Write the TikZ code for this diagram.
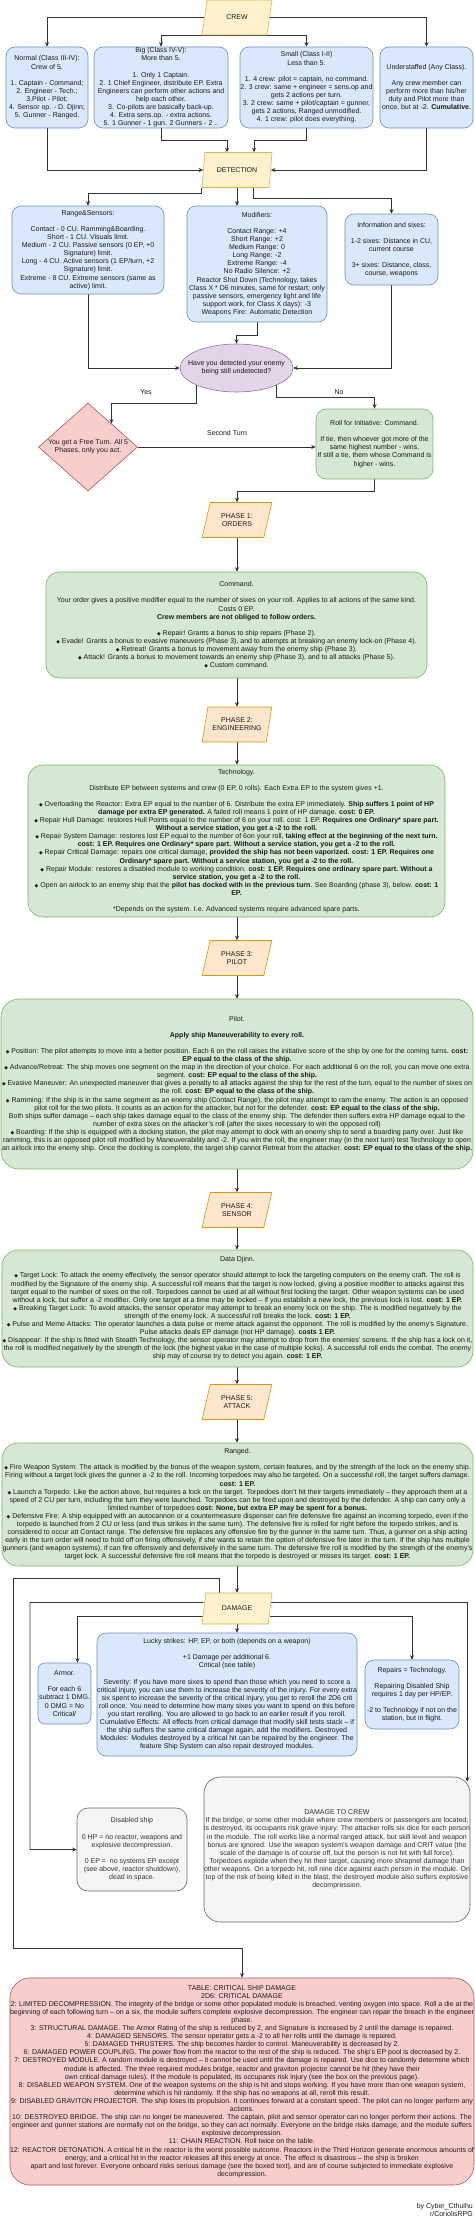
\documentclass[tikz,border=0pt]{standalone}
\usepackage{fontspec}
\setmainfont{Liberation Sans}
\newfontfamily\dejavu{DejaVu Sans}
\usetikzlibrary{shapes.geometric,arrows.meta}
\definecolor{blueF}{HTML}{DAE8FC}\definecolor{blueD}{HTML}{6C8EBF}
\definecolor{greenF}{HTML}{D5E8D4}\definecolor{greenD}{HTML}{82B366}
\definecolor{redF}{HTML}{F8CECC}\definecolor{redD}{HTML}{B85450}
\definecolor{purF}{HTML}{E1D5E7}\definecolor{purD}{HTML}{9673A6}
\definecolor{yelF}{HTML}{FFF2CC}\definecolor{yelD}{HTML}{D6B656}
\definecolor{orF}{HTML}{FFE6CC}\definecolor{orD}{HTML}{D79B00}
\definecolor{greyF}{HTML}{F5F5F5}\definecolor{greyD}{HTML}{666666}
\definecolor{edgeC}{HTML}{333333}
\definecolor{txt}{HTML}{1A1A1A}
\newcommand\fs{\fontsize{7}{8.1}\selectfont\hyphenpenalty=10000\exhyphenpenalty=10000}
\newcommand\dmd{{\dejavu\fontsize{4.8}{4}\selectfont ◆}}
\pgfdeclarelayer{bg}\pgfdeclarelayer{edges}\pgfsetlayers{bg,edges,main}
\begin{document}
\begin{tikzpicture}[x=1pt,y=-1pt,
  base/.style={font=\fs, text=txt, align=flush center, inner sep=0pt},
  box/.style={base, rectangle, rounded corners=#1, line width=0.6pt},
  bluebox/.style={box=9pt, draw=blueD, fill=blueF},
  greenbox/.style={box=#1, draw=greenD, fill=greenF},
  redbox/.style={box=20pt, draw=redD, fill=redF},
  greybox/.style={box=#1, draw=greyD, fill=greyF, text=black!80},
  para/.style={base, trapezium, trapezium left angle=70, trapezium right angle=110,
     trapezium stretches=true, minimum width=70, minimum height=35, line width=0.6pt},
  yelpara/.style={para, draw=yelD, fill=yelF},
  orpara/.style={para, draw=orD, fill=orF},
  arr/.style={draw=edgeC, line width=0.7pt, -{Stealth[length=4.5pt,width=4pt]}}
]
\begin{pgfonlayer}{bg}
\fill[white] (0,0) rectangle (474,2229);
\end{pgfonlayer}
\useasboundingbox (0,0) rectangle (474,2229);

% ---------- crew ----------
\node[yelpara] (crew) at (237,17.5) {CREW};
\node[bluebox, minimum width=82, minimum height=81, text width=80] (normal) at (47,87.5)
 {Normal (Class III-IV):\\Crew of 5.\\[8.1pt]1. Captain - Command;\\2. Engineer - Tech.;\\3.Pilot - Pilot;\\4. Sensor op. - D. Djinn;\\5. Gunner - Ranged.};
\node[bluebox, minimum width=134, minimum height=81, text width=127] (big) at (161,87.5)
 {Big (Class IV-V):\\More than 5.\\[8.1pt]1. Only 1 Captain.\\2. 1 Chief Engineer, distribute EP. Extra Engineers can perform other actions and help each other.\\3. Co-pilots are basically back-up.\\4. Extra sens.op. - extra actions.\\5. 1 Gunner - 1 gun. 2 Gunners - 2 ..};
\node[bluebox, minimum width=133, minimum height=81, text width=133] (small) at (306.5,87.5)
 {Small (Class I-II)\\Less than 5.\\[8.1pt]1. 4 crew: pilot = captain, no command.\\2. 3 crew: same + engineer = sens.op and gets 2 actions per turn.\\3. 2 crew: same + pilot/captain = gunner, gets 2 actions, Ranged unmodified.\\4. 1 crew: pilot does everything.};
\node[bluebox, minimum width=93, minimum height=81, text width=92] (under) at (426.5,87.5)
 {Understaffed (Any Class).\\[8.1pt]Any crew member can perform more than his/her duty and Pilot more than once, but at -2. \textbf{Cumulative}.};

% ---------- detection ----------
\node[yelpara] (det) at (237,170) {DETECTION};
\node[bluebox, minimum width=152, minimum height=88, text width=142] (rs) at (88,250)
 {Range\&Sensors:\\[8.1pt]Contact - 0 CU. Ramming\&Boarding.\\Short - 1 CU. Visuals limit.\\Medium - 2 CU. Passive sensors (0 EP, +0 Signature) limit.\\Long - 4 CU. Active sensors (1 EP/turn, +2 Signature) limit.\\Extreme - 8 CU. Extreme sensors (same as active) limit.};
\node[bluebox, minimum width=140, minimum height=116, text width=138] (mods) at (257,264)
 {Modifiers:\\[8.1pt]Contact Range: +4\\Short Range: +2\\Medium Range: 0\\Long Range: -2\\Extreme Range: -4\\No Radio Silence: +2\\Reactor Shut Down (Technology, takes Class X * D6 minutes, same for restart; only passive sensors, emergency light and life support work, for Class X days): -3\\Weapons Fire: Automatic Detection};
\node[bluebox, minimum width=93, minimum height=71, text width=85] (info) at (391.5,249.5)
 {Information and sixes:\\[8.1pt]1-2 sixes: Distance in CU, current course\\[8.1pt]3+ sixes: Distance, class, course, weapons};

\node[ellipse, draw=purD, fill=purF, line width=0.6pt, minimum width=113, minimum height=48, inner sep=0pt] (ell) at (236.5,368) {};
\node[base, text width=102] (ellt) at (ell.center) {Have you detected your enemy being still undetected?};

\node[diamond, draw=redD, fill=redF, line width=0.6pt, minimum width=99, minimum height=88, inner sep=0pt] (dia) at (88,447) {};
\node[base, text width=84] (diat) at (dia.center) {You get a Free Turn. All 5 Phases, only you act.};

\node[greenbox=10pt, minimum width=117, minimum height=70, text width=117] (roll) at (374.5,444)
 {Roll for Initiative: Command.\\[8.1pt]If tie, then whoever got more of the same highest number - wins.\\If still a tie, them whose Command is higher - wins.};

\node[base] (yes) at (146,392) {Yes};
\node[base] (no) at (339,392) {No};
\node[base] (sec) at (227,433) {Second Turn};

% ---------- phases ----------
\node[orpara] (p1) at (237,520) {PHASE 1:\\ORDERS};
\node[greenbox=13pt, minimum width=381, minimum height=106, text width=370] (cmd) at (236.5,625)
 {Command.\\[8.1pt]Your order gives a positive modifier equal to the number of sixes on your roll. Applies to all actions of the same kind. Costs 0 EP.\\\textbf{Crew members are not obliged to follow orders.}\\[8.1pt]
 \dmd{} Repair! Grants a bonus to ship repairs (Phase 2).\\
 \dmd{} Evade! Grants a bonus to evasive maneuvers (Phase 3), and to attempts at breaking an enemy lock-on (Phase 4).\\
 \dmd{} Retreat! Grants a bonus to movement away from the enemy ship (Phase 3).\\
 \dmd{} Attack! Grants a bonus to movement towards an enemy ship (Phase 3), and to all attacks (Phase 5).\\
 \dmd{} Custom command.};

\node[orpara] (p2) at (237,724.5) {PHASE 2:\\ENGINEERING};
\node[greenbox=15pt, minimum width=417, minimum height=152, text width=408] (tech) at (236.5,841)
 {Technology.\\[8pt]Distribute EP between systems and crew (0 EP, 0 rolls). Each Extra EP to the system gives +1.\\[8pt]
 \dmd{} Overloading the Reactor: Extra EP equal to the number of 6. Distribute the extra EP immediately. \textbf{Ship suffers 1 point of HP damage per extra EP generated.} A failed roll means 1 point of HP damage. \textbf{cost: 0 EP.}\\
 \dmd{} Repair Hull Damage: restores Hull Points equal to the number of 6 on your roll. cost: 1 EP. \textbf{Requires one Ordinary* spare part. Without a service station, you get a -2 to the roll.}\\
 \dmd{} Repair System Damage: restores lost EP equal to the number of 6on your roll, \textbf{taking effect at the beginning of the next turn. cost: 1 EP. Requires one Ordinary* spare part. Without a service station, you get a -2 to the roll.}\\
 \dmd{} Repair Critical Damage: repairs one critical damage, \textbf{provided the ship has not been vaporized. cost: 1 EP. Requires one Ordinary* spare part. Without a service station, you get a -2 to the roll.}\\
 \dmd{} Repair Module: restores a disabled module to working condition. \textbf{cost: 1 EP. Requires one ordinary spare part. Without a service station, you get a -2 to the roll.}\\
 \dmd{} Open an airlock to an enemy ship that the \textbf{pilot has docked with in the previous turn}. See Boarding (phase 3), below. \textbf{cost: 1 EP.}\\[8pt]
 *Depends on the system. I.e. Advanced systems require advanced spare parts.};

\node[orpara] (p3) at (237,958) {PHASE 3:\\PILOT};
\node[greenbox=18pt, minimum width=472, minimum height=170, text width=470] (pilot) at (237,1084)
 {Pilot.\\[8.1pt]\textbf{Apply ship Maneuverability to every roll.}\\[8.1pt]
 \dmd{} Position: The pilot attempts to move into a better position. Each 6 on the roll raises the initiative score of the ship by one for the coming turns. \textbf{cost: EP equal to the class of the ship.}\\
 \dmd{} Advance/Retreat: The ship moves one segment on the map in the direction of your choice. For each additional 6 on the roll, you can move one extra segment. \textbf{cost: EP equal to the class of the ship.}\\
 \dmd{} Evasive Maneuver: An unexpected maneuver that gives a penalty to all attacks against the ship for the rest of the turn, equal to the number of sixes on the roll. \textbf{cost: EP equal to the class of the ship.}\\
 \dmd{} Ramming: If the ship is in the same segment as an enemy ship (Contact Range), the pilot may attempt to ram the enemy. The action is an opposed pilot roll for the two pilots. It counts as an action for the attacker, but not for the defender. \textbf{cost: EP equal to the class of the ship.}\\
 Both ships suffer damage – each ship takes damage equal to the class of the enemy ship. The defender then suffers extra HP damage equal to the number of extra sixes on the attacker's roll (after the sixes necessary to win the opposed roll)\\
 \dmd{} Boarding: If the ship is equipped with a docking station, the pilot may attempt to dock with an enemy ship to send a boarding party over. Just like ramming, this is an opposed pilot roll modified by Maneuverability and -2. If you win the roll, the engineer may (in the next turn) test Technology to open an airlock into the enemy ship. Once the docking is complete, the target ship cannot Retreat from the attacker. \textbf{cost: EP equal to the class of the ship.}};

\node[orpara] (p4) at (237,1210) {PHASE 4:\\SENSOR};
\node[greenbox=16pt, minimum width=471, minimum height=117, text width=470] (djinn) at (237.5,1308.5)
 {Data Djinn.\\[8.1pt]
 \dmd{} Target Lock: To attack the enemy effectively, the sensor operator should attempt to lock the targeting computers on the enemy craft. The roll is modified by the Signature of the enemy ship. A successful roll means that the target is now locked, giving a positive modifier to attacks against this target equal to the number of sixes on the roll. Torpedoes cannot be used at all without first locking the target. Other weapon systems can be used without a lock, but suffer a -2 modifier. Only one target at a time may be locked – if you establish a new lock, the previous lock is lost. \textbf{cost: 1 EP.}\\
 \dmd{} Breaking Target Lock: To avoid attacks, the sensor operator may attempt to break an enemy lock on the ship. The is modified negatively by the strength of the enemy lock. A successful roll breaks the lock. \textbf{cost: 1 EP.}\\
 \dmd{} Pulse and Meme Attacks: The operator launches a data pulse or meme attack against the opponent. The roll is modified by the enemy's Signature. Pulse attacks deals EP damage (not HP damage). \textbf{costs 1 EP.}\\
 \dmd{} Disappear: If the ship is fitted with Stealth Technology, the sensor operator may attempt to drop from the enemies' screens. If the ship has a lock on it, the roll is modified negatively by the strength of the lock (the highest value in the case of multiple locks). A successful roll ends the combat. The enemy ship may of course try to detect you again. \textbf{cost: 1 EP.}};

\node[orpara] (p5) at (237,1402) {PHASE 5:\\ATTACK};
\node[greenbox=16pt, minimum width=471, minimum height=123, text width=470] (ranged) at (237.5,1504.5)
 {Ranged.\\[8.1pt]
 \dmd{} Fire Weapon System: The attack is modified by the bonus of the weapon system, certain features, and by the strength of the lock on the enemy ship. Firing without a target lock gives the gunner a -2 to the roll. Incoming torpedoes may also be targeted. On a successful roll, the target suffers damage. \textbf{cost: 1 EP.}\\
 \dmd{} Launch a Torpedo: Like the action above, but requires a lock on the target. Torpedoes don't hit their targets immediately – they approach them at a speed of 2 CU per turn, including the turn they were launched. Torpedoes can be fired upon and destroyed by the defender. A ship can carry only a limited number of torpedoes \textbf{cost: None, but extra EP may be spent for a bonus.}\\
 \dmd{} Defensive Fire: A ship equipped with an autocannon or a countermeasure dispenser can fire defensive fire against an incoming torpedo, even if the torpedo is launched from 2 CU or less (and thus strikes in the same turn). The defensive fire is rolled for right before the torpedo strikes, and is considered to occur att Contact range. The defensive fire replaces any offensive fire by the gunner in the same turn. Thus, a gunner on a ship acting early in the turn order will need to hold off on firing offensively, if she wants to retain the option of defensive fire later in the turn. If the ship has multiple gunners (and weapon systems), if can fire offensively and defensively in the same turn. The defensive fire roll is modified by the strength of the enemy's target lock. A successful defensive fire roll means that the torpedo is destroyed or misses its target. \textbf{cost: 1 EP.}};

% ---------- damage ----------
\node[yelpara, minimum height=31] (dmg) at (237,1608.5) {DAMAGE};
\node[bluebox, minimum width=260, minimum height=123, text width=260] (lucky) at (227,1694.5)
 {Lucky strikes: HP, EP, or both (depends on a weapon)\\[8.1pt]+1 Damage per additional 6.\\Critical (see table)\\[8.1pt]Severity: If you have more sixes to spend than those which you need to score a critical injury, you can use them to increase the severity of the injury. For every extra six spent to increase the severity of the critical injury, you get to reroll the 2D6 crit roll once. You need to determine how many sixes you want to spend on this before you start rerolling. You are allowed to go back to an earlier result if you reroll. Cumulative Effects: All effects from critical damage that modify skill tests stack – if the ship suffers the same critical damage again, add the modifiers. Destroyed Modules: Modules destroyed by a critical hit can be repaired by the engineer. The feature Ship System can also repair destroyed modules.};
\node[bluebox, rounded corners=7pt, minimum width=53, minimum height=61, text width=53] (armor) at (64.5,1693.5)
 {Armor.\\[8.1pt]For each 6 subtract 1 DMG.\\0 DMG = No Critical/};
\node[bluebox, minimum width=94, minimum height=69, text width=93] (rep) at (412,1694.5)
 {Repairs = Technology.\\[8.1pt]Repairing Disabled Ship requires 1 day per HP/EP.\\[8.1pt]-2 to Technology if not on the station, but in flight.};
\node[greybox=11pt, minimum width=110, minimum height=83, text width=106] (dis) at (132,1849.5)
 {Disabled ship\\[8.1pt]0 HP = no reactor, weapons and explosive decompression.\\[8.1pt]0 EP = \ no systems EP except (see above, reactor shutdown), dead in space.};
\node[greybox=16pt, minimum width=266, minimum height=145, text width=266] (dtc) at (337,1849.5)
 {DAMAGE TO CREW\\If the bridge, or some other module where crew members or passengers are located, is destroyed, its occupants risk grave injury. The attacker rolls six dice for each person in the module. The roll works like a normal ranged attack, but skill level and weapon bonus are ignored. Use the weapon system's weapon damage and CRIT value (the scale of the damage is of course off, but the person is not hit with full force). Torpedoes explode when they hit their target, causing more shrapnel damage than other weapons. On a torpedo hit, roll nine dice against each person in the module. On top of the risk of being killed in the blast, the destroyed module also suffers explosive decompression.};
\node[redbox, minimum width=460, minimum height=207, text width=464] (table) at (242,2081.5)
 {TABLE: CRITICAL SHIP DAMAGE\\2D6: CRITICAL DAMAGE\\
 2: LIMITED DECOMPRESSION. The integrity of the bridge or some other populated module is breached, venting oxygen into space. Roll a die at the beginning of each following turn – on a six, the module suffers complete explosive decompression. The engineer can repair the breach in the engineer phase.\\
 3: STRUCTURAL DAMAGE. The Armor Rating of the ship is reduced by 2, and Signature is increased by 2 until the damage is repaired.\\
 4: DAMAGED SENSORS. The sensor operator gets a -2 to all her rolls until the damage is repaired.\\
 5: DAMAGED THRUSTERS. The ship becomes harder to control. Maneuverability is decreased by 2.\\
 6: DAMAGED POWER COUPLING. The power flow from the reactor to the rest of the ship is reduced. The ship's EP pool is decreased by 2.\\
 7: DESTROYED MODULE. A random module is destroyed – it cannot be used until the damage is repaired. Use dice to randomly determine which module is affected. The three required modules bridge, reactor and graviton projector cannot be hit (they have their\\own critical damage rules). If the module is populated, its occupants risk injury (see the box on the previous page).\\
 8: DISABLED WEAPON SYSTEM. One of the weapon systems on the ship is hit and stops working. If you have more than one weapon system, determine which is hit randomly. If the ship has no weapons at all, reroll this result.\\
 9: DISABLED GRAVITON PROJECTOR. The ship loses its propulsion. It continues forward at a constant speed. The pilot can no longer perform any actions.\\
 10: DESTROYED BRIDGE. The ship can no longer be maneuvered. The captain, pilot and sensor operator can no longer perform their actions. The engineer and gunner stations are normally not on the bridge, so they can act normally. Everyone on the bridge risks damage, and the module suffers explosive decompression.\\
 11: CHAIN REACTION. Roll twice on the table.\\
 12: REACTOR DETONATION. A critical hit in the reactor is the worst possible outcome. Reactors in the Third Horizon generate enormous amounts of energy, and a critical hit in the reactor releases all this energy at once. The effect is disastrous – the ship is broken\\apart and lost forever. Everyone onboard risks serious damage (see the boxed text), and are of course subjected to immediate explosive decompression.};

\node[base, align=right, anchor=north east] (cred) at (473,2203) {by Cyber\_Cthulhu\\r/CoriolisRPG};

\coordinate (lA) at (13,1578);
\coordinate (lB) at (13,1948);
\coordinate (lC) at (30,1602.5);

% ---------- connectors ----------
\begin{pgfonlayer}{edges}
\draw[arr] (crew.west) -| (normal.north);
\draw[arr] (crew.east) -| (under.north);
\draw[arr] (crew.south) -| (big.north);
\draw[arr] (crew.south) -| (small.north);
\draw[arr] (normal.south) |- (det.west);
\draw[arr] (under.south) |- (det.east);
\draw[arr] (big.south) -- ++(0,12) -| ([xshift=-10]det.north);
\draw[arr] (small.south) -- ++(0,12) -| ([xshift=17]det.north);
\draw[arr] (det.bottom left corner) -- ++(0,6) -| (rs.north);
\draw[arr] (det.south) -- (det.south |- mods.north);
\draw[arr] ([xshift=16]det.south) -- ++(0,11) -| (info.north);
\draw[arr] (rs.south) |- (ell.west);
\draw[arr] (info.south) |- (ell.east);
\draw[arr] (mods.south) -- ++(0,13) -| (ell.north);
\draw[arr] (ell.203) -- ++(0,18) -| (dia.45);
\draw[arr] (ell.337) -- ++(0,12) -| (roll.north);
\draw[arr] (dia.east) -- (dia.east -| roll.west);
\draw[arr] (roll.south) -- ++(0,12) -| (p1.north);
\draw[arr] (p1.south) -- (p1.south |- cmd.north);
\draw[arr] (cmd.south -| p2.north) -- (p2.north);
\draw[arr] (p2.south) -- (p2.south |- tech.north);
\draw[arr] (tech.south -| p3.north) -- (p3.north);
\draw[arr] (p3.south) -- (p3.south |- pilot.north);
\draw[arr] (pilot.south -| p4.north) -- (p4.north);
\draw[arr] (p4.south) -- (p4.south |- djinn.north);
\draw[arr] (djinn.south -| p5.north) -- (p5.north);
\draw[arr] (p5.south) -- (p5.south |- ranged.north);
\draw[arr] (ranged.south -| dmg.north) -- (dmg.north);
\draw[arr] (dmg.south) -- (dmg.south |- lucky.north);
\draw[arr] ([yshift=-7.5]dmg.west) -| ([xshift=13]armor.north);
\draw[arr] ([yshift=-7.5]dmg.east) -| (rep.north);
\draw[arr] ([yshift=6]dmg.east) -| ([xshift=-3,yshift=-5]dtc.north east);
\draw[arr] ([yshift=6]dmg.west) -- (lC) |- (dis.west);
\draw[arr] ([xshift=-18]dmg.north) |- (lA) -- (lB) -| (table.north);
\end{pgfonlayer}
\end{tikzpicture}
\end{document}
